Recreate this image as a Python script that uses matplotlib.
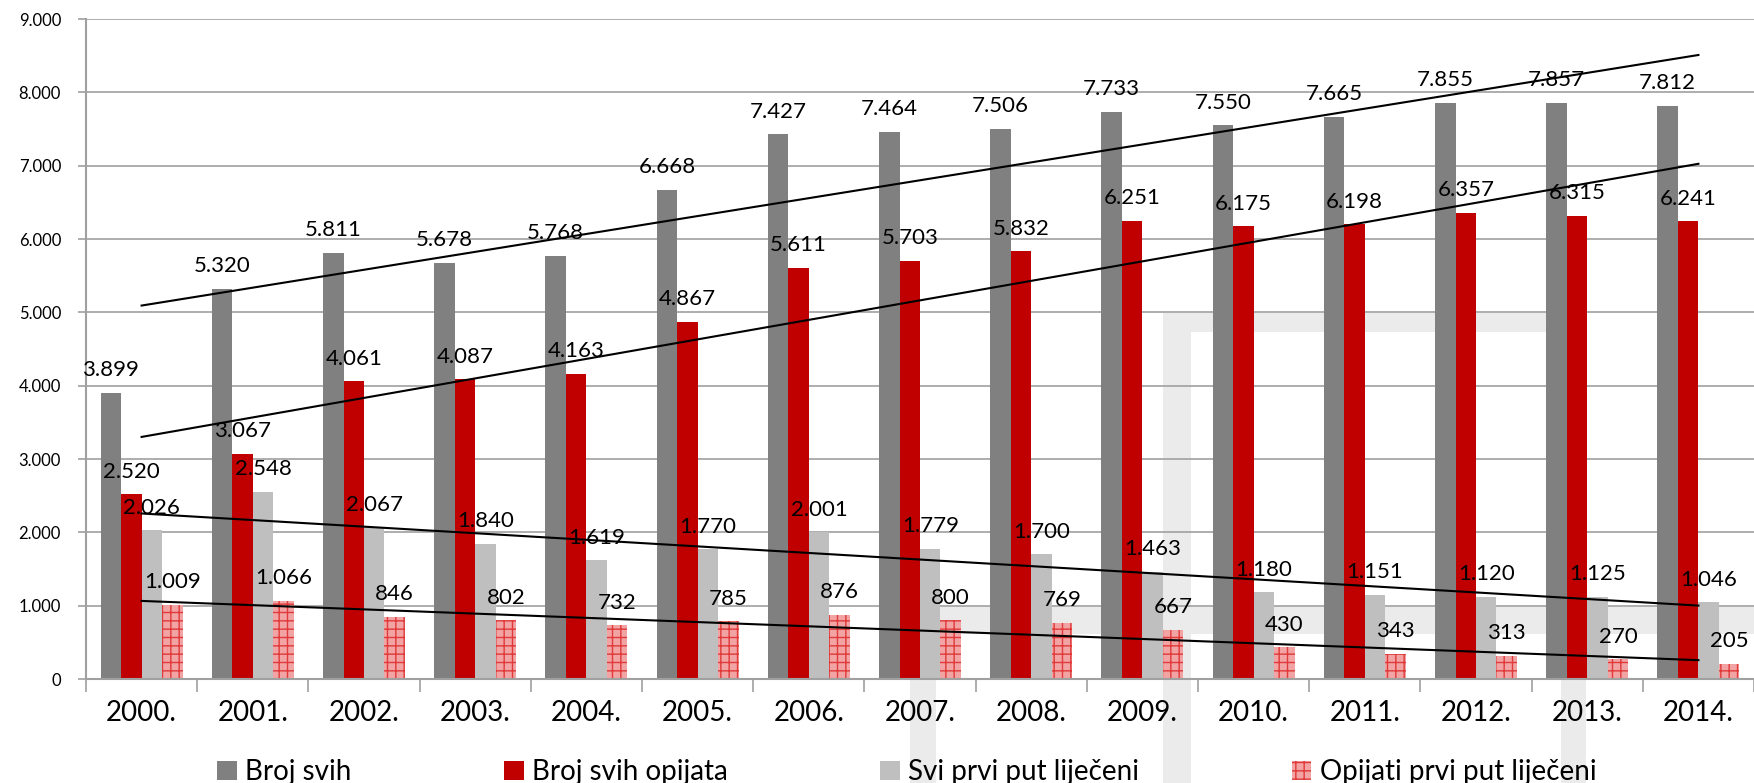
import numpy as np
import matplotlib.pyplot as plt
from matplotlib.patches import Rectangle

plt.rcParams['font.family'] = ['Lato', 'DejaVu Sans']

years = ["2000.", "2001.", "2002.", "2003.", "2004.", "2005.", "2006.", "2007.",
         "2008.", "2009.", "2010.", "2011.", "2012.", "2013.", "2014."]
broj_svih = [3899, 5320, 5811, 5678, 5768, 6668, 7427, 7464, 7506, 7733, 7550, 7665, 7855, 7857, 7812]
broj_opijata = [2520, 3067, 4061, 4087, 4163, 4867, 5611, 5703, 5832, 6251, 6175, 6198, 6357, 6315, 6241]
svi_prvi = [2026, 2548, 2067, 1840, 1619, 1770, 2001, 1779, 1700, 1463, 1180, 1151, 1120, 1125, 1046]
opijati_prvi = [1009, 1066, 846, 802, 732, 785, 876, 800, 769, 667, 430, 343, 313, 270, 205]

series_names = ["Broj svih", "Broj svih opijata", "Svi prvi put liječeni", "Opijati prvi put liječeni"]

W, H = 1754, 783
fig = plt.figure(figsize=(W / 100, H / 100), dpi=100)

# faint logo shapes behind the chart (pixel boxes: x0, y0 from top, x1, y1)
logo = [(1163, 313, 1191, 783), (1163, 313, 1553, 332), (1561, 607, 1586, 783),
        (910, 607, 1754, 634), (910, 607, 936, 783)]
for x0, y0, x1, y1 in logo:
    fig.patches.append(Rectangle((x0 / W, 1 - y1 / H), (x1 - x0) / W, (y1 - y0) / H,
                                 transform=fig.transFigure, facecolor='#EBEBEB',
                                 edgecolor='none', zorder=0))

ax = fig.add_axes([86 / W, 104 / H, (W - 86) / W, 660 / H])
ax.set_zorder(1)
ax.patch.set_alpha(0)

x = np.arange(len(years))
bw = 0.184
data = [broj_svih, broj_opijata, svi_prvi, opijati_prvi]
offsets = [-1.5, -0.5, 0.5, 1.5]

plt.rcParams['hatch.linewidth'] = 1.0
bars = []
bars.append(ax.bar(x + offsets[0] * bw, broj_svih, bw, color='#808080', zorder=2, label=series_names[0]))
bars.append(ax.bar(x + offsets[1] * bw, broj_opijata, bw, color='#C00000', zorder=2, label=series_names[1]))
bars.append(ax.bar(x + offsets[2] * bw, svi_prvi, bw, color='#BFBFBF', zorder=2, label=series_names[2]))
bars.append(ax.bar(x + offsets[3] * bw, opijati_prvi, bw, facecolor='#F2A3A3', edgecolor='#E03A3A',
                   hatch='++', linewidth=0, zorder=2, label=series_names[3]))

# linear trend for every series
for vals in data:
    k, b = np.polyfit(x, vals, 1)
    ax.plot([x[0], x[-1]], [k * x[0] + b, k * x[-1] + b], color='black', lw=1.5, zorder=3)

def fmt(v):
    return f"{v:,}".replace(",", ".")

for vals, off in zip(data, offsets):
    for xi, v in zip(x, vals):
        ax.annotate(fmt(v), (xi + off * bw, v), xytext=(0, 12), textcoords='offset points',
                    ha='center', va='baseline', fontsize=16, color='black', zorder=4)

ax.set_xlim(-0.5, len(years) - 0.5)
ax.set_ylim(0, 9000)
ax.set_yticks(range(0, 9001, 1000))
ax.set_yticklabels([fmt(v) for v in range(0, 9001, 1000)], fontsize=12)
ax.tick_params(axis='y', length=6, width=1.2, color='#A0A0A0', pad=12)

ax.set_xticks(np.arange(-0.5, len(years), 1))
ax.set_xticklabels([])
ax.tick_params(axis='x', which='major', length=9, width=1.2, color='#A0A0A0')
ax.set_xticks(x, minor=True)
ax.set_xticklabels(years, minor=True, fontsize=20)
ax.tick_params(axis='x', which='minor', length=0, pad=15)

ax.grid(axis='y', color='#A0A0A0', lw=1.2, zorder=1)
ax.set_axisbelow(True)
for s in ['top', 'right']:
    ax.spines[s].set_visible(False)
for s in ['left', 'bottom']:
    ax.spines[s].set_color('#A0A0A0')
    ax.spines[s].set_linewidth(1.5)

fig.legend(handles=bars, labels=series_names, loc='center', bbox_to_anchor=(0.517, 0.014),
           ncol=4, frameon=False, fontsize=20, handlelength=0.7, handleheight=0.7,
           handletextpad=0.3, columnspacing=5.5)

fig.savefig('out.png', dpi=100)
